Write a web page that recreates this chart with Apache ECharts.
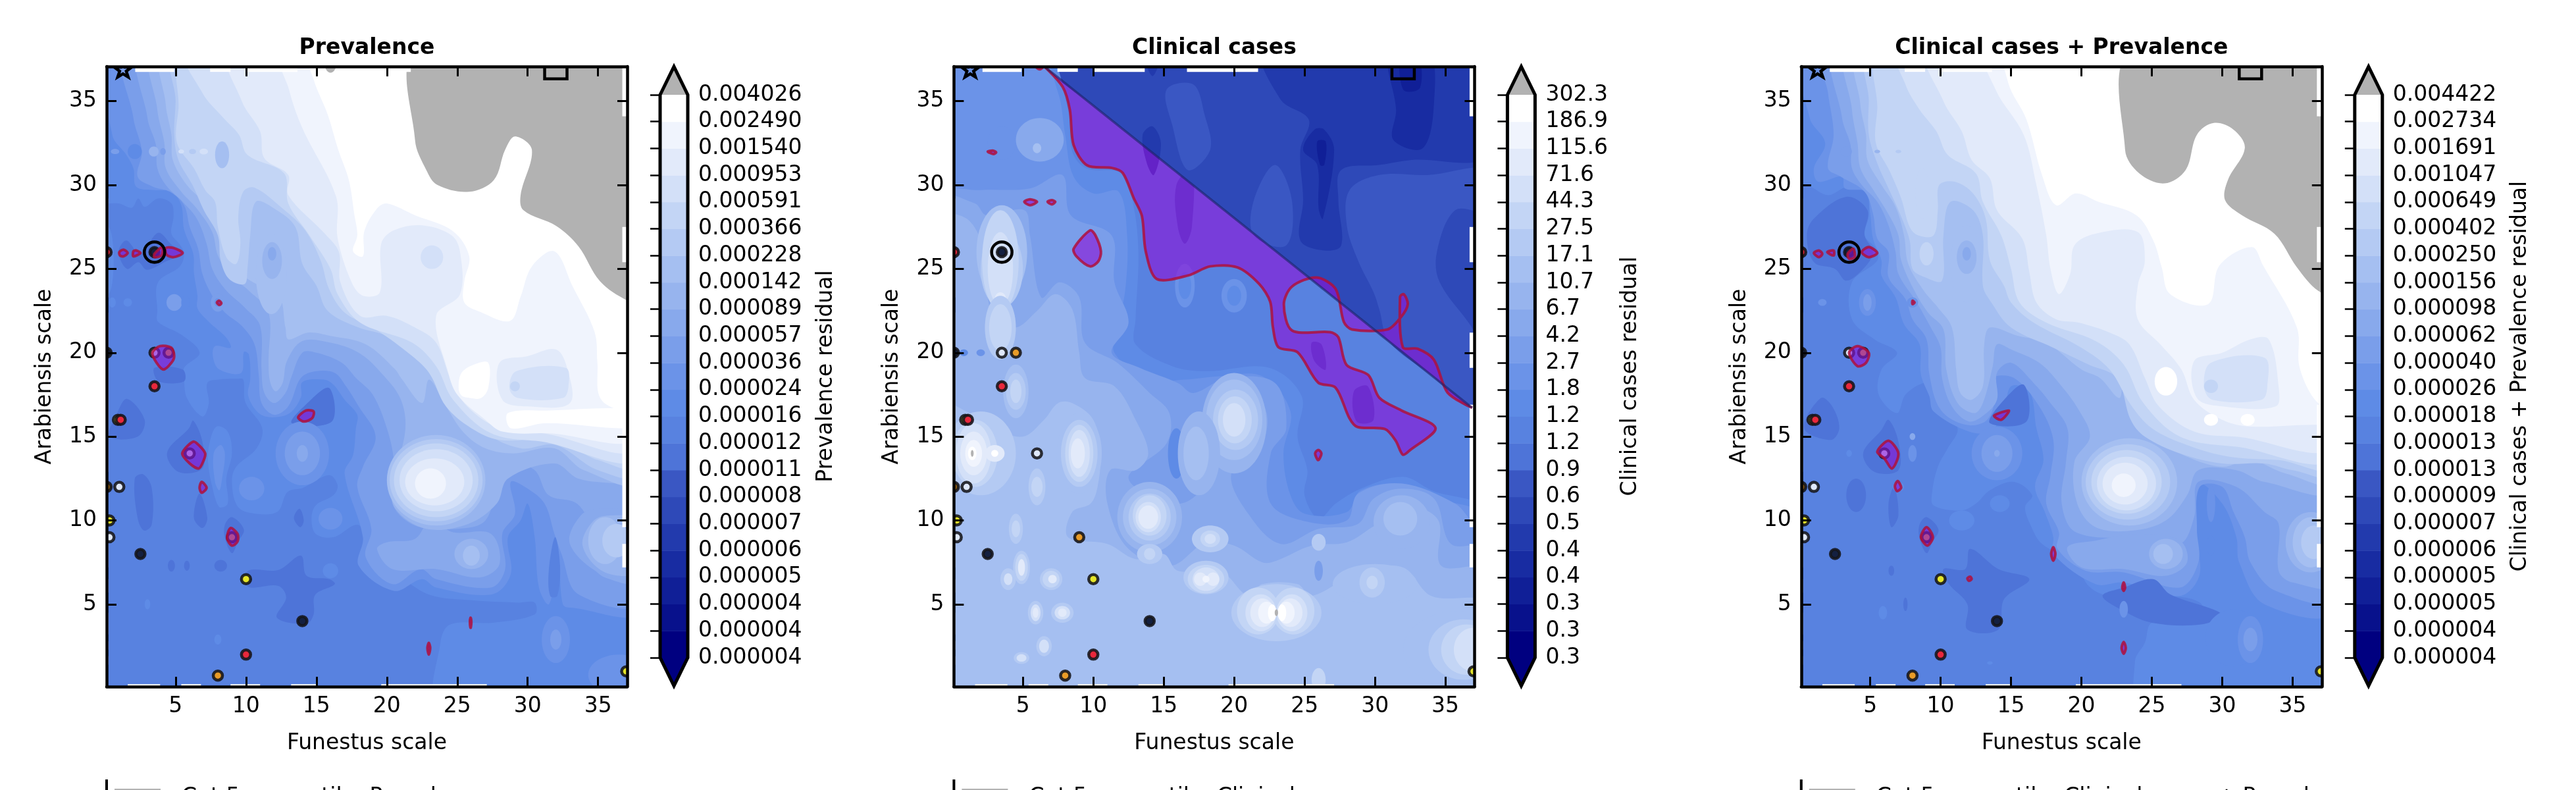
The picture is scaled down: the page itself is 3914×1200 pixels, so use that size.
<!DOCTYPE html>
<html><head><meta charset="utf-8">
<script src="https://cdn.jsdelivr.net/npm/echarts@6/dist/echarts.min.js"></script>
<style>html,body{margin:0;padding:0;background:#fff}#c{width:3914px;height:1200px}</style></head>
<body><div id="c"></div>
<script>
const titles=['Prevalence','Clinical cases','Clinical cases + Prevalence'];
const barNames=['Prevalence residual','Clinical cases residual','Clinical cases + Prevalence residual'];
const legendTexts=['Cut 5 percentile: Prevalence','Cut 5 percentile: Clinical cases','Cut 5 percentile: Clinical cases + Prevalence'];
const ticks1=['0.000004','0.000004','0.000004','0.000005','0.000006','0.000007','0.000008','0.000011','0.000012','0.000016','0.000024','0.000036','0.000057','0.000089','0.000142','0.000228','0.000366','0.000591','0.000953','0.001540','0.002490','0.004026'];
const ticks2=['0.3','0.3','0.3','0.4','0.4','0.5','0.6','0.9','1.2','1.2','1.8','2.7','4.2','6.7','10.7','17.1','27.5','44.3','71.6','115.6','186.9','302.3'];
const ticks3=['0.000004','0.000004','0.000005','0.000005','0.000006','0.000007','0.000009','0.000013','0.000013','0.000018','0.000026','0.000040','0.000062','0.000098','0.000156','0.000250','0.000402','0.000649','0.001047','0.001691','0.002734','0.004422'];
const BANDS=['#000080','#08118c','#101f97','#182ca2','#223aad','#2e49b8','#3a57c3','#4e74d8','#5882e0','#5e8be6','#6b93e8','#7a9eea','#88a9ec','#97b4ee','#a5bff1','#b4caf3','#c3d5f5','#d3e0f8','#e2eafa','#f0f4fd','#ffffff','#b2b2b2'];
const pointX=[0.1,3.5,0.1,3.5,4.5,3.5,0.9,1.1,6,0.1,1,0.3,0.3,2.5,9,10,14,10,8,37];
const pointY=[26,26,20,20,20,18,16,16,14,12,12,10,9,8,9,6.5,4,2,0.75,1];
const pointC=['#e8283c','#142040','#142040','#dfe8fb','#e89b28','#e8283c','#e5e52a','#e8283c','#dfe8fb','#8a5a10','#dfe8fb','#e5e52a','#dfe8fb','#142040','#e89b28','#e5e52a','#142040','#e8283c','#e89b28','#e5e52a'];
const gapTop=[[2.13,4.9],[7.45,8.9],[10,13.65],[16.65,21.7]];
const gapBottom=[[1.6,3.9],[5.4,6.8],[8.9,11],[13.2,15],[19.6,27.1]];
const gapRight=[[34.1,37.1],[25.4,27.5],[19.1,21.2],[9.6,16.9],[7.2,8.6]];
const gapLeft=[[23.3,29.2],[12.9,22.4],[7.2,9],[5.7,6.5],[3.2,4.5],[2.3,2.8],[1.4,1.9]];
const diagX=[6.55,36.9], diagY=[37.05,16.72];
const purpleOpenPoints=51;

const poly1=[
[8,[-1,-1,38,-1,38,38,-1,38]],
[9,[-1,28.9,0,28.9,0.95,28.9,1.9,28.65,2.35,29.2,2.8,28.7,3.75,29.2,4.7,28.9,4.85,28.15,4.7,27.1,5.3,26.45,5.6,25.9,5.3,25.15,3.75,24.2,3.7,22.5,3.75,21.85,5.45,21.05,6.7,20,5.6,19.1,5.6,18.45,5.8,17.3,6.9,16.2,7.35,16.95,7.25,18.2,8.1,18.4,9.35,18.45,9.8,18.4,9.95,17.05,11.15,15.5,10.75,14.3,9.3,13.2,9,12.35,9.35,10.9,10.3,10.45,12.2,10.5,12.95,11.7,14.05,11.95,15.9,12.7,16.5,12.1,16.2,11.5,14.95,10.9,14.65,10.1,14.95,9.2,16.2,9,17.9,9.75,18.55,8.95,18.5,8.3,21.2,6.5,23.1,5.55,25.85,5.25,29.35,5.1,30.5,5.1,30.5,4.4,27.5,3.9,24.5,3.8,23.8,2.7,23.8,-1,38,-1,38,38,-1,38]],
[10,[0.3,38,0.5,33,1.5,31.8,2,31,2.2,29.9,3.5,29.7,4.7,29.6,5.4,28.8,5.6,27.35,6.25,25.9,6.3,24.75,6.55,23.4,6.55,22.65,7.35,21.85,8.6,20.9,8.9,20.3,7.8,20.4,7.65,19.75,8.1,19,9.65,18.8,9.85,20.05,10.2,19.9,10.3,18.45,10.15,17.45,10.9,16.4,11.85,16.15,13.1,16.4,13.9,17.35,14,18.25,15.5,18.4,16.2,18.1,17,17.2,17.9,16.3,17.8,15.5,17.6,13.9,17,12.8,18.3,9,18,7.3,20.5,5.8,22.5,6.5,23.5,6,27.5,5.6,28.8,6.8,28.6,9,29.5,10,30,11,30.5,9,30.8,6,31.5,5,32,6.9,32.2,7.5,32.5,5,33,4.8,38,4.8,38,38]],
[11,[1.7,38,2,34,2.6,32,2.3,30.5,3.4,29.9,4.6,29.6,5.6,28.8,6,27.5,6.6,26.2,6.9,24.7,7.6,23.4,8.5,22.4,9.7,21.6,10.6,20.5,10.9,18.7,11.1,17,12,16.3,13,16.8,13.9,18.5,15,18.9,16.3,18.8,17.1,18,18,16.8,19.2,15,18.3,13.2,17.9,12,18.9,9.5,18.5,7.8,20.4,6.2,22.4,7.1,23.5,6.5,27.4,6,28.4,7.1,28.2,9.2,29.1,10.4,28.8,12.3,30,11.9,31.2,11,31.9,9.2,32.4,8,33.6,5.6,38,5.3,38,38]],
[12,[2.8,38,3,34,3.6,32.4,3.7,31,4.3,30,5.5,29,6.5,28,7.2,26.5,7.6,25,8.5,23.8,9.9,22.7,11,21.6,11.1,19,11.3,17.6,12,17,12.8,17.6,13.2,18.5,14,20,15,20,16.8,19.4,17.8,18.5,19,17.5,20,15.5,20.5,13.5,20.4,11,22,9.7,25,9.5,27,10,28,12.5,29,13.3,30.5,13,31.5,11.5,33.5,11,34.5,9.5,34.5,7.5,35.5,6.6,38,6.5,38,38]],
[12,[19.3,8.3,20,8.7,22,8.9,23.1,10,24.7,9.3,27.4,9.2,28,7.4,26.6,6.6,23.5,7.1,20.4,7.1]],
[13,[3.6,38,3.7,34.5,4.2,32.5,4.3,31,5.4,29.6,6.5,28.6,7.6,27.2,8,25.8,8.8,24.7,10.2,23.7,11.6,22.4,11.6,19.5,11.7,18.3,12.1,17.7,12.6,18.2,12.9,19.5,14,20.7,16,20.6,18,20,19.6,18.8,21,17.2,21.3,15.3,20.4,12.2,20.6,10.7,22.8,9.5,25.8,9.8,27.8,11,28.6,12.5,31.9,13.4,33.6,12.5,36.3,12.2,38,12,38,38]],
[12,[33,8.6,33.9,10.4,35.5,10.7,38,10.4,38,6.8,35.5,6.7]],
[13,[33.9,8.5,34.7,10,36,10.3,38,10,38,7,35.5,6.9]],
[14,[4.3,38,4.3,34.8,4.7,33,4.8,31.5,5.8,30,7,29,8,28,8.6,26.5,9,25.2,10.5,24.2,12.3,23.5,12.8,21.5,13,20.8,14.4,21.2,16,21,18.5,20.5,20.6,19,21,18.5,22.5,17,23,18.4,24.2,16.8,25.5,15.2,27,14.3,29,14,31.9,14.3,34,13,38,12.4,38,38]],
[15,[5,38,5,35,4.9,33,5.2,31.5,6.2,30,7,28.5,8,27,8.2,25.5,8.8,24.4,9.9,24.1,10.1,25,10.3,27,10.7,29,12,28.6,13.5,27.5,14,25.3,15,24,15.8,22.5,18,21.5,20,21,22,19.8,23,19.5,25,17.8,27,15.3,29.5,14.3,32,14.5,35,13,38,12.8,38,38]],
[16,[5.7,38,5.2,34.5,5.1,32.5,6.3,31,7.1,29.7,7.8,29,8,27.5,8.6,25.7,9.3,25.3,9.6,26.5,9.45,28.1,9.8,29.6,10.6,29.85,12.6,28.6,14.2,27.3,15.3,25.5,15.9,23.8,17,22.4,19,21.5,21.5,20,23,18.8,24.2,16.8,26,15.5,28,14.8,32,14.8,35,13.6,38,13.3,38,38]],
[17,[5.85,38,6.9,35.5,8.4,34,9.5,33,10.1,31.8,12.7,30.7,13,28.9,14.5,27,16,25,16.5,23.5,18.1,21.8,21.8,20.6,23.5,19.2,24.7,17.2,27.4,15.2,31,14.7,38,14,38,38]],
[18,[8.9,38,9.7,35,11,33.2,11.3,31.6,13,30.6,13,29.4,15.6,27.1,16.6,26,16.7,24.2,18.1,22.2,20,22.2,22,21.5,23.5,20.6,24.5,18.5,25.7,16.8,28,15.5,31,15.2,38,14.6,38,38]],
[19,[12.55,38,13.05,35.7,14,33.4,16.4,29.3,16.5,26.85,17.5,24.2,18.3,23.4,19.5,23.6,19.6,26.5,20.5,27.3,22.5,27.6,24.6,27,25.2,26,25.2,23.5,23.5,22.2,24.3,19,25,17.5,27,16,28.2,15.3,31.3,15.2,38,15.3,38,38]],
[20,[14.5,38,14.8,36.3,15.8,34.2,16.55,32.1,17.3,30.3,17.7,28.2,17.9,27,17.6,26.05,18.3,25.75,18.4,27.25,19.3,28.6,20,28.9,22,28.2,24.7,27.25,25.85,25.75,25.5,24.25,25.5,23,26.6,22.45,28.75,21.9,29.5,23.35,30.3,25.15,31.9,26.05,33.2,23.95,34.75,21.25,34.95,19.45,35.15,17.3,36.7,16.5,38,16.4,38,38]],
[20,[25.1,17.9,25.3,18.8,26.2,19.3,27.2,19.4,27.2,17.9,26.7,17.3,25.9,17.3,25.3,17.45]],
[20,[28.6,16.4,31.3,16.55,38,16.55,38,15.55,31.3,15.8,28.8,15.5]],
[18,[28,19.4,30,19.8,32,20.2,32.8,19.1,33,17,30,16.8,28.2,17.2]],
[17,[28.7,17.9,29.2,18.9,32.7,19.1,32.9,18,32.5,17.3,29.3,17.3]],
[7,[10.15,7,12.3,7.05,13.9,7.9,14.3,6.7,15.9,6.5,16.3,6.2,14.9,5.55,14.8,4.4,14.3,3.85,12.2,4.2,12.85,5.4,12.3,6.1,10.15,6.05]],
[7,[13.25,15.8,14.3,16.95,15.9,17.9,16.1,15.9]],
[7,[0.8,16.3,1.55,17.25,2.8,16,2.3,15,0.3,15]],
[7,[4.4,14.05,5.95,15.5,6.25,15.95,6.9,14.7,6.9,13.1,5.2,12.9]],
[7,[2.1,12.5,2.7,12.75,3.3,11.95,3.3,9.75,2.75,9.4,2.3,10.15]],
[7,[6.3,10.15,6.9,9.55,7.25,10.15,6.7,11.6]],
[7,[8.5,9.75,9,10.2,9.85,9.45,9.4,8.7,9,8.05,8.5,8.95]],
[7,[0.95,26,1.5,26.7,2.5,25.9,3.75,27.15,4.7,26.45,5.4,25.95,4.2,25.4,2.95,24.95,2.35,25.4,1.55,25]],
[7,[3.5,19.1,5.5,19,5.6,18.3,3.8,18.3]],
[7,[13.4,10.15,13.8,10.7,14.1,10,13.85,9.6]],
[9,[7.4,14.6,7.9,15.6,8.7,15.3,9,14,8.6,12.5,8.7,11,8.1,10.8,7.6,12,7.3,13.5]],
[10,[7.7,14,8.2,14.5,8.5,14,8.3,12.5,8.1,11.8,7.8,12.3]],
[8,[31.5,7,31.95,9,32.3,7.3,32.1,5.5,31.6,5.5]],
[21,[22.2,38,22,32.7,22.8,30.9,23.6,30,25.85,29.6,27.6,30.3,28.4,32.1,29.1,32.9,30.3,32.1,29.5,29.4,29.7,28.5,32.05,27.55,33.6,26.35,35.15,24.25,37.1,23.1,38,23,38,38]]
];
const blob1=[
[10,14,14,1.9,1.9],[11,14,14,1.25,1.3],[12,14,14,.4,.5],
[10,10.4,11.9,.9,.7],[10,16,10.1,.85,.65],[9,16,7,.55,.45],
[14,23.5,12.4,3.5,2.7],[15,23.5,12.4,3.3,2.45],[16,23.5,12.4,3,2.2],[17,23.5,12.4,2.6,1.85],[18,23.4,12.3,2.1,1.4],[19,23.1,12.2,1.1,.9],
[14,35.5,8.8,1.2,1.4],[15,36.3,8.8,1,1],
[13,26,8,1.2,.9],[14,26,7.9,.6,.6],
[17,23.2,25.7,.8,.7],[16,29.1,18,.35,.3],
[14,11.8,24.7,1.1,2.4],[13,11.85,25.5,.7,1.1],[12,11.85,25.9,.3,.4],
[9,0.2,25.5,.4,2],[11,0.7,32,.3,.15],[13,3.45,32,.35,.3],[11,4.1,32,.2,.2],[17,5.4,32,.2,.12],[15,6.2,32,.25,.15],[17,7,32,.3,.17],[14,8.3,31.8,.5,.8],[9,2.1,32,.5,.45],
[11,8,23,.5,.55],[10,8,23,.25,.25],[11,4.9,23,.55,.5],[9,5.7,23,.3,.4],[9,1.6,23,.3,.25],[9,.5,23,.25,.3],
[10,32,2.9,1,1.4],[11,32,2.9,.4,.6],[10,36.5,.8,2.2,1.2],
[7,4.7,7.3,.25,.35],[7,5.8,7.3,.2,.3],[7,8.2,7.3,.45,.35],[9,3,5,.2,.3],[9,8,2.9,.25,.3],
[21,16,37.2,.4,.5]
];
const purple1=[
[3.35,20,3.9,20.4,4.7,20.3,4.9,19.8,4.7,19.4,4.15,19,3.65,19.4],
[4.3,26.25,4.85,26.25,5.5,25.95,4.85,25.7,4.35,25.85],
[3.5,25.9,4.05,26.3,4,25.8,3.5,25.7],
[1,26,1.3,26.15,1.6,25.95,1.3,25.75,1.05,25.8],
[2,26.05,2.2,26.1,2.5,25.95,2,25.75],
[7.93,23,8.1,23.1,8.25,22.95,8.1,22.85],
[5.47,14,6.25,14.7,6.7,14.45,7.1,14,7,13.6,6.65,13.1,6,13.4],
[6.7,11.95,6.85,12.3,7.2,11.95,6.85,11.65],
[8.65,8.95,8.9,9.55,9.4,9.2,9.4,8.75,9,8.5],
[13.7,16.15,14.25,16.55,14.8,16.5,14.7,16.1,14.1,15.9],
[25.9,4,25.95,4.2,26,3.9,25.95,3.6],
[22.88,2.4,22.98,2.7,23.08,2.4,22.98,2]
];

const poly2=[
[8,[-1,-1,38,-1,38,38,-1,38]],
[6,[15.9,30,17,31,17,27.5,16.5,26.5,16,27.5]],
[6,[25.5,20.6,26.2,20.5,26.5,19,25.7,19.5]],
[6,[28.5,17.7,29.5,18,29.9,16,28.7,15.9]],
[5,[6.55,37.05,6.55,38,38,38,38,16.72,36.9,16.72,34,18.66,30,21.34,25,24.69,20,28.04,15,31.39,10,34.74]],
[4,[22.2,38,23.3,35.1,25.3,33.9,24.7,32.1,24.9,29.1,24.7,26.7,26.4,26.1,27.6,26.4,27.4,29.1,27.6,30.9,30.3,31.2,32.6,31.5,38,31.8,38,38]],
[3,[25.7,33.3,24.9,32.1,25.9,31.2,26,28.6,26.3,28,27.1,32.1,26.4,33.3]],
[3,[31,38,31.5,34.5,31.3,32.7,33.4,32.2,34.2,35,33.8,38]],
[2,[31.9,38,32,35.7,33.2,35.8,33,38]],
[2,[25.9,32.6,26.5,32.6,26.4,31.2,26.1,31.2]],
[4,[13.5,33,14.2,33.5,14.8,32.5,14.3,30.6,13.8,31.3]],
[4,[13.6,38,14.2,36.5,14.8,38]],
[6,[28.2,29.7,30.3,30.6,33.8,30.6,38,30.9,38,28.5,35.7,28.5,34.4,26,34.6,24.2,37.1,21.2,38,19,36.9,16.72,34,18.66,31,20.67,30.3,22.6,29.9,23.6,28.8,25.5,28,27.6]],
[6,[15.2,35.7,17.1,36,17.9,34.2,18.3,32.1,16.7,30.9,15.6,33.6]],
[6,[21.4,29.1,22.9,31.2,24.1,29.1,23.7,26.4,21.4,27]],
[9,[-1,38,6.5,38,8.2,34.5,8.5,32,9.5,31,12,30.7,12.8,29,13.2,26,13,22,13,20.5,15.6,19.2,18,18.9,22.5,19.1,24.8,17.4,24.5,15,25.2,13,25,11.5,26,10.1,27.2,11,29,11.9,32,12.6,34,11.8,38,10.4,38,-1,-1,-1]],
[10,[-1,38,6,38,7.5,35.5,8,33,8.6,30.5,10,29.5,11.8,29.6,12.4,27,12.3,24,11.8,21.6,11.5,20,14,18.4,16.5,18.4,19,18.6,22,18.6,24,16.5,23.5,14,24,11.5,25,10.4,28,10.5,29,11.8,32,12.2,34,11.4,38,10,38,-1,-1,-1]],
[11,[-1,29.4,2,29.7,5.5,29.8,7.8,30.6,8.4,28.2,11.3,27,11.5,24.2,12.5,21.8,11.3,20,13.3,19.1,16,18.2,17.1,17.6,19.5,18.5,22.9,18.2,23.7,15.5,22.6,14,22.6,11,25.3,9.9,28,10,28.8,11.6,31.9,12.2,35.7,11,37.1,9.8,38,9.8,38,-1,-1,-1]],
[12,[-1,29.2,1.6,28.9,2.4,28.2,5.1,28.5,5.5,27,6.3,23.3,7.6,24.2,9,23.3,9.4,20.6,11.7,19.4,14,17.6,15.4,16.4,15.2,14.6,12.5,12.5,16,11,17.9,12.2,17.1,14,18.3,17,20.2,18.2,22.2,16.7,22,14.6,19.8,12.8,21,10.4,23.3,8.6,26,9.5,28.8,9.8,29.9,11.3,31.9,11.9,34.2,11.3,35.4,8.6,38,8.3,38,-1,-1,-1]],
[13,[-1,28,1,28,2.3,26,2.4,24,3,22,4.5,21.5,6,22.5,7.3,23.5,8.5,22.6,9,20,9.4,18.5,11.5,18,13,16,13.9,14,13,13,11.2,13,11,11,12.5,8.3,15.5,7.3,18,8.7,20,8.5,22,7.5,23,7.6,25.5,8.5,28,8.7,30,9.7,32.5,10.8,34.5,10,34.7,7.3,38,7,38,-1,-1,-1]],
[14,[-1,17,1,16.5,3,15.5,5,15,6.5,16,7.5,17,8.5,17,10,16,10.5,14,10.3,12,9.8,11,8.5,10.5,8.2,9,11,8.6,13,7.7,15,8,16,7,19,7,21,5.5,22,6.2,24.5,6.2,25.5,5.5,29,7,32,7.2,34,5.5,38,5,38,-1,-1,-1]]
];
const blob2=[
[9,15.9,14,.6,1.5],[10,3.5,32.5,1,1],[12,6.2,32.7,1.7,1.3],[14,6,32.2,.3,.3],
[10,16.5,24,.7,1.3],[10,20,23.4,.9,1],[9,16.5,24,.45,.8],[9,20,23.4,.5,.6],
[13,20,15.8,2.3,3],[14,20,16,2,2.4],[15,20.1,16,1.6,1.8],[16,20.05,16,1.2,1.4],[17,20,16,.8,1],
[13,17.5,14,1.5,2.5],[14,17.3,14,.9,1.6],
[13,14,10.2,2.3,2.1],[14,14,10.2,1.9,1.7],[15,14,10.2,1.5,1.4],[16,14,10.3,1.2,1.2],[17,13.9,10.2,.9,.9],[18,13.9,10.2,.7,.7],
[15,14,8,.9,.6],[16,14,8,.4,.35],
[15,23,4.5,3.2,1.7],[16,21.7,4.6,1.5,1.4],[16,24.2,4.6,1.5,1.4],[17,21.9,4.5,1.1,1.1],[17,24.1,4.5,1.1,1.1],[18,22,4.5,.85,.85],[18,24,4.5,.85,.85],[19,22.3,4.5,.6,.65],[19,23.7,4.5,.6,.65],[20,22.7,4.5,.3,.5],[20,23.4,4.5,.3,.5],[21,23,4.5,.12,.2],
[15,18,6.6,1.6,1],[16,18,6.5,1.3,.85],[17,18,6.5,.95,.7],[18,17.6,6.5,.45,.4],[18,18.5,6.5,.45,.4],[19,18,6.5,.25,.2],
[15,18.3,8.9,1.3,.8],[16,18.3,8.9,.7,.5],[17,18.3,8.9,.4,.3],
[15,2,14,2.5,2.5],[16,1.6,14,1.6,2],[17,1.5,14,1.25,1.8],[18,1.5,14,.95,1.3],[19,1.5,14,.6,.8],[20,1.4,14,.3,.4],[21,1.4,14,.1,.2],[18,3,14,.7,.5],[20,3,14,.25,.2],
[14,9,14,1.6,2.4],[15,9,14,1.3,2],[16,9,14,1,1.7],[17,9,14,.75,1.4],[18,8.9,14,.5,.9],
[14,3.5,26,1.8,2.8],[15,3.5,25,1.5,2.3],[16,3.4,25.5,1.3,3],[17,3.4,25,.9,2.2],[18,3.4,23.2,.4,.4],
[15,3.4,21.5,1.1,1.9],[16,3.4,21.5,.8,1.4],[14,4.5,17.7,.9,1.6],[15,4.5,17.7,.7,1.1],[16,4.5,17.7,.4,.7],
[15,6,12,.6,1.1],[16,6,12,.4,.6],[15,4.5,9.5,.5,.9],[16,4.5,9.5,.3,.5],[15,4.9,7.2,.6,1],[16,4.9,7.2,.45,.8],[18,4.9,7.2,.25,.5],[15,3.95,6.5,.55,.65],[17,3.95,6.5,.3,.35],[15,7,6.5,.8,.65],[16,7,6.5,.6,.5],[18,7.1,6.5,.3,.25],[15,5.9,4.5,.55,.7],[17,5.9,4.5,.35,.5],[18,5.9,4.5,.2,.3],[15,7.8,4.5,.8,.6],[17,7.8,4.5,.55,.4],[18,7.8,4.5,.3,.25],[15,6.5,2.5,.55,.6],[17,6.5,2.5,.35,.4],[15,4.9,1.8,.55,.35],[17,4.9,1.8,.35,.22],
[14,36,2.3,4,2.3],[15,36.3,2.3,2.5,1.8],[16,36.5,2.3,1.8,1.5],[17,37,2.3,1.4,1.3],
[14,30,6.2,3,1.2],[15,29.8,6.3,.9,.9],[16,29.8,6.3,.4,.4],[13,31.9,9.9,2,1.6],[14,31.8,10.1,1.2,1],
[11,26,7,.3,.6],[15,26,8.7,.5,.5],[16,26,.5,.5,.7],[9,0.8,20,.3,.2],[10,2,20,.3,.2]
];
const purple2=[
[6.55,37.05,7.83,35.84,8.33,34.49,8.6,32.38,9.57,31.17,11.32,31.02,12.09,30.72,12.87,29.22,13.45,28.16,13.72,26.05,14.5,24.4,16.74,24.61,18.29,25.15,20.23,25.09,21.78,24.1,22.56,23.04,22.75,21.54,23.14,20.33,24.5,20.03,25.97,18.22,27.2,17.92,28.18,16.11,28.76,15.57,30.7,15.45,31.47,14.76,31.98,13.92,32.44,14.16,34.3,15.51,31.86,16.57,30.31,17.32,29.53,18.67,27.98,19.28,27.4,20.93,26.82,21.23,24.11,21.33,23.53,22.89,24.11,23.95,25.85,24.49,27.21,23.8,27.79,21.84,28.37,21.39,30.89,21.39,31.86,22.14,32.33,22.89,32.05,23.49,31.78,23.34,31.98,20.33,33.02,20.24,34.19,19.58,35.16,17.62,36.9,16.72,35.5,17.66,34,18.66,30,21.34,25,24.69,20,28.04,15,31.39,10,34.74,8,36.08],
[8.6,26.2,9.77,27.3,10.15,27,10.54,26.05,10.35,25.45,9.77,25.15,8.8,25.75],
[2.5,32,2.9,32.05,3.1,31.95,2.9,31.85],
[5.1,29,5.5,29.15,6,29,5.5,28.8],
[6.75,29,7.05,29.1,7.3,29,7.05,28.85],
[25.75,14,25.97,14.2,26.2,14,25.97,13.6],
[5.7,37.3,6.2,36.9,6.6,37.3]
];

const poly3=[
[8,[-1,-1,38,-1,38,38,-1,38]],
[9,[-1,30.2,0.5,30,2,29.4,3.4,29.9,4.7,29.5,4.9,28.2,4.6,27,5.4,26.2,5.5,25.5,3.7,24.2,3.7,22,5.3,20.8,6.9,20,5.8,19,5.6,17.5,6.9,16.4,7.5,17.5,8.8,18.2,9.8,18.1,9.8,17,11.2,15.5,10.5,14.3,9.8,13.2,9.4,11.7,9.5,10.9,11.5,10.6,12.5,11,13.5,11.8,15.2,12.3,16.5,11.5,16,10.8,16.4,9.7,17.2,8.6,19.5,7.5,20.5,6.1,21.9,5.5,23.7,5.5,27.4,5.4,28.6,4.9,27.8,4,25,3.9,24.5,2.7,23.8,1.6,24.3,-1,38,-1,38,38,-1,38]],
[10,[0.4,38,0.7,34,1.8,32.5,1,31,1.3,30.2,3,30.5,3.2,29.8,4.7,29.6,5,28.3,5.2,26.8,5.8,25.5,5.8,24.6,6.8,23.3,7.4,21.7,8.5,20.5,8.6,18.7,9.2,17.4,9.5,16.5,12,15.3,13.5,15.3,14.5,16.5,15,18,16.3,17.7,16.8,15.5,17.3,13.6,16.7,12,17.4,10.5,18,9,18,8,21,6.2,23,6.3,27,5.5,28.4,6.8,28,9.5,28.3,12.2,30,11,31,9,31.2,7.5,33,5,38,4.8,38,38]],
[11,[1.7,38,2,35.5,2.4,33,2,31,2.9,30.5,4.6,29.6,5.2,28.3,5.5,26.8,6.3,26,6.3,24.5,7.5,23.2,8,22,9,20.8,9.2,18.7,10,16.6,11.8,15.7,13.3,16,13.9,17.5,13.7,18.5,15.2,18.5,17,16.8,18,14.8,17.8,12.7,17.5,11,18.4,9.3,18.3,8.3,20.3,7,23,6.9,27,6,28.3,7.5,28.2,9.5,28.4,12,30,12,30.8,10.5,31.6,9,32,7.5,33.8,5.8,38,5.5,38,38]],
[12,[2.8,38,3,34,3.6,32.4,3.7,31,4.4,30,5.5,29,6.3,27.6,6.8,26,7,24.7,8.3,23,9.3,21.5,10,20.3,10.1,18.5,10.8,16.8,12,15.9,13.1,16.3,14,17.2,14,18.8,15,19.4,16.6,18.2,17.8,17,19,15.5,18.9,13.5,18.6,11,19.6,9.3,24,8.9,27,8.6,28,10.2,28.3,12.3,31,12,33,10.5,34,9.8,34,7,35,6.3,38,6.3,38,38]],
[12,[19,8.4,21,8.8,24,9.2,27,8.8,27.5,7.5,26,6.7,23,7.1,20,7.2]],
[13,[3.6,38,3.7,34.5,4.1,32.5,4.3,31,5.3,29.6,6.2,28.4,7,27,7.2,25.5,8.2,23.6,9.1,22.4,10.2,21.4,10.4,19,11.2,17,12.4,16.4,13,17,13.7,19.2,14,20.5,15,20.2,17,19.4,18.4,18.2,19.8,16.6,20.6,15,19.5,13.5,19.7,11,21,9.6,23.7,9.4,26,10,27.5,11.5,28.3,13,31,13,33,12.3,38,12,38,38]],
[14,[4.3,38,4.3,34.8,4.7,33,4.8,31.5,5.8,30,6.8,28.7,7.4,27,7.7,25.3,8.8,23.7,9.8,22.7,10.8,21.5,11.1,19,11.4,17.6,12.2,17.2,13,18,13.1,20.5,13.5,21.5,15.5,21,17.5,20.6,20,19,21.3,18.5,22.7,17.3,23,18.6,24,16.8,25.5,14.8,27.5,13.8,30,13.2,32,13.6,34.5,12.8,38,12.4,38,38]],
[15,[5,38,4.9,35,4.9,33,5.5,31.3,6.3,29.8,7,28.5,7.8,26.7,8,25,8.9,24.5,10.1,24.3,10.2,27,10.7,29,12.3,28.5,13,27,13,24,13.6,23,15,21.5,18,20.3,20.5,19.3,22.5,18.5,23.5,16,24.5,15,27,14,30,13.4,33,13.4,35,13,38,12.8,38,38]],
[16,[5.8,38,5.5,34.5,5.4,32.5,6.4,30.8,7.2,29.2,7.8,27.5,8.4,27,9.5,27,9.8,28.5,9.9,30,11,30.2,12.3,29.5,13.2,28,13.5,25.5,14.5,24,15,23,16.6,21.8,20,20.3,22,19,23.5,16.9,25,15.5,27.5,14.5,30.5,13.8,34,13.6,38,13.3,38,38]],
[17,[7,38,7.5,36,8.5,34.5,9.7,33.2,10.5,31.8,12.5,30.7,13,29,14.3,27,15,25,15.6,23,17.5,21.8,21,20.7,23,19.3,24.4,17,27,15,31,14.4,38,14,38,38]],
[18,[9.2,38,10.2,35,11.5,33.2,12.2,31.5,13.5,30.4,14,28.5,15.8,26.8,16.3,24.8,16.8,23,18.2,22,19.8,21.8,22,21.2,23.4,20.5,24.5,18.5,25.5,16.8,28,15.3,31,15,38,14.7,38,38]],
[19,[13.3,38,13.9,35.7,15.9,33,16.8,30,17.5,27,17.8,25,18.4,23.5,19.2,24.7,19.5,26.4,21,27.1,24,27.2,24.5,25.5,24,24,24,22,25.6,20.5,27.1,19,28,17.2,30,16,32,15.6,36.7,15.7,38,15.5,38,38]],
[20,[14.8,38,14.8,36.1,16.1,33.9,17.2,30.6,18.2,28.8,19.6,29.5,21.2,29,23.9,28.2,25.1,26.7,25.7,25.1,26.3,23.5,29,22.9,29.8,25.2,32.1,26.3,32.9,25.2,35.3,21.5,35.5,19.1,36.8,17,38,17,38,38]],
[18,[28,19.5,30,20,32,20.8,33.3,20.8,34,18,33.8,16.8,30,16.8,28.2,17.3]],
[17,[28.7,18,29.2,19.4,33,19.7,33.2,18,32.8,17.2,29.3,17.2]],
[18,[21,25.8,23,26.8,23.6,26.2,23.3,24.9,22.4,24.7]],
[7,[10.2,7.1,11.75,7.1,12.1,8.3,14.1,7.1,16.3,6.5,14.5,5.3,14.1,3.5,11.9,3.5,11.9,5,10.6,6.2]],
[7,[21.5,5.5,23,6,25.1,6.5,26.3,5.6,30,4.4,28.5,3.8,25,3.9,23,4.6]],
[7,[0.5,27,1,28,3.3,29.3,4.8,28.5,4.6,27,5.2,26,4.5,25,3.3,24.3,2.5,25,1,25.4]],
[7,[13.5,15.8,14.3,17,15.9,18.1,16.1,15.9]],
[7,[4.5,14,5.8,15.4,6.3,16,7,14.7,7,13,5.3,12.9]],
[7,[0.3,15.5,1.5,17.3,2.3,16.8,2.8,15.5,2.2,14.8]],
[7,[8.5,9.75,9,10.2,9.85,9.45,9.4,8.7,9,8.05,8.5,8.95]],
[7,[6.3,11,6.7,12,7,10.3,6.5,9.6]],
[21,[23.6,38,23.1,32.1,24.1,30.7,25.9,30.1,27.4,30.9,28.2,33,29.4,33.7,30.8,33.3,31.6,32.2,30.4,30.3,30.2,29.1,31.4,28.2,33.7,27.1,35.3,25.1,36.8,23.7,38,23.5,38,38]]
];
const blob3=[
[10,14,14,1.8,1.6],[11,14,14,1.1,1.1],[12,14,14,.2,.2],
[14,23.4,12.3,3.4,2.6],[15,23.3,12.3,3,2.25],[16,23.2,12.3,2.5,1.9],[17,23.2,12.2,2.1,1.6],[18,23.1,12.2,1.6,1.25],[19,23,12.1,.85,.7],
[13,36.3,8.7,1.8,1.8],[14,36.3,8.7,1.3,1.5],[15,36.5,8.7,.9,1],
[13,26,8,1.2,.9],[14,25.8,8,.7,.6],[10,29.2,11,.3,1.1],[9,29.2,8.5,.3,.6],
[16,9,25.9,.5,.7],[14,11.8,25.3,1.1,2.3],[13,11.85,25.7,.7,1],[12,11.85,25.9,.3,.4],
[20,26,18.3,.8,.85],[20,29.2,16,.5,.35],[20,31.8,16,.5,.35],[16,29.2,18,.5,.4],
[16,8.7,29.5,.5,1.5],[11,3.3,32,.4,.3],[13,5.5,32,.2,.1],[15,7,32,.2,.1],
[10,4.8,23,.6,.8],[11,4.8,23,.3,.5],[10,1.6,23,.3,.2],[10,8,23,.4,.3],[12,8,15,.2,.2],
[9,14.2,11,.7,.5],[11,13.3,14,.2,.2],[10,8,14,.3,.5],[9,3.5,14,.2,.2],[9,7,12,.4,.3],
[9,11.5,10,.9,.6],[7,4,11.5,.7,1],[7,6.5,7,.2,.3],[7,7.5,5,.15,.4],
[9,30.8,3,2,1.7],[10,32,2.9,.9,1.4],[11,32,2.9,.5,.7],
[10,23,4.7,.3,.5],[9,5.9,4.5,.3,.4],[9,13.5,1.5,.2,.1]
];
const purple3=[
[3.5,20,4.1,20.4,4.9,20,4.7,19.4,4.1,19.2],
[4.4,26,4.9,26.3,5.5,25.95,4.9,25.7],
[3.4,25.9,3.8,26.2,3.9,25.7,3.5,25.6],
[1,25.95,1.35,26.1,1.6,25.9,1.35,25.7],
[1.95,26,2.4,26.1,2.4,25.8],
[8,23.1,8.15,23,8,22.9],
[5.5,14.1,6.3,14.75,7,14,6.55,13.1,6,13.7],
[6.75,12.05,6.95,12.35,7.2,11.95,6.9,11.75],
[8.6,9,9,9.6,9.45,9,9.05,8.5],
[13.8,16.25,14.85,16.55,14.3,16],
[17.85,8,18,8.4,18.15,8,18,7.6],
[11.9,6.55,12.1,6.65,12.2,6.5,12,6.4],
[22.9,6,23,6.3,23.1,6,23,5.8],
[22.85,2.4,23,2.75,23.15,2.4,23,2.05]
];
const polys=[poly1,poly2,poly3], blobs=[blob1,blob2,blob3], purples=[purple1,purple2,purple3], ticks=[ticks1,ticks2,ticks3];

const STEP=1287.4, L0=162, W=791, T0=101, H=942, BAR0=1003, BARW=42, BT=144, BH=855;
const XMIN=0.1, XMAX=37.07, YMIN=0.09, YMAX=37.07;
const tickVals=[5,10,15,20,25,30,35];
const FONT='DejaVu Sans', FS=33;
const starShape=[[0,-13],[3,-4],[13,-4],[5,2],[8,11],[0,6],[-8,11],[-5,2],[-13,-4],[-3,-4]];
const lineS={lineStyle:{color:'#000',width:4.5}};

const grids=[],xAxes=[],yAxes=[],series=[],titleOpt=[],graphics=[];
const barNameGap=[194,129,193];
for(let p=0;p<3;p++){
  const L=L0+STEP*p, g=2*p;
  grids.push({left:L,top:T0,width:W,height:H});
  grids.push({left:BAR0+STEP*p,top:BT,width:BARW,height:BH});
  const xBase={type:'value',gridIndex:g,min:XMIN,max:XMAX,splitLine:{show:false},z:10,axisLine:{onZero:false,...lineS}};
  const yBase={type:'value',gridIndex:g,min:YMIN,max:YMAX,splitLine:{show:false},z:10,axisLine:{onZero:false,...lineS}};
  const tk={show:true,inside:true,length:15,lineStyle:{color:'#000',width:3},customValues:tickVals};
  xAxes.push({...xBase,position:'bottom',axisTick:tk,axisLabel:{color:'#000',fontFamily:FONT,fontSize:FS,margin:14,customValues:tickVals},
    name:'Funestus scale',nameLocation:'middle',nameGap:70,nameTextStyle:{color:'#000',fontFamily:FONT,fontSize:FS}});
  xAxes.push({...xBase,position:'top',axisTick:tk,axisLabel:{show:false}});
  xAxes.push({type:'value',gridIndex:g+1,min:0,max:1,show:false});
  yAxes.push({...yBase,position:'left',axisTick:tk,axisLabel:{color:'#000',fontFamily:FONT,fontSize:FS,margin:15,customValues:tickVals},
    name:'Arabiensis scale',nameLocation:'middle',nameGap:77,nameTextStyle:{color:'#000',fontFamily:FONT,fontSize:FS}});
  yAxes.push({...yBase,position:'right',axisTick:tk,axisLabel:{show:false}});
  const labs=ticks[p];
  yAxes.push({type:'value',gridIndex:g+1,position:'right',min:0,max:21,interval:1,z:10,splitLine:{show:false},axisLine:{show:false},
    axisTick:{show:true,inside:true,length:15,lineStyle:{color:'#000',width:2.5}},
    axisLabel:{color:'#000',fontFamily:FONT,fontSize:FS,margin:16,formatter:v=>labs[Math.round(v)]},
    name:barNames[p],nameLocation:'middle',nameRotate:90,nameGap:barNameGap[p],nameTextStyle:{color:'#000',fontFamily:FONT,fontSize:FS}});
  titleOpt.push({text:titles[p],left:L+W/2-5,top:52,textAlign:'center',textStyle:{color:'#000',fontFamily:FONT,fontSize:FS,fontWeight:'bold'}});

  const xa=3*p, ya=3*p, axes={xAxisIndex:xa,yAxisIndex:ya,clip:true,silent:true};
  const pl=polys[p], bl=blobs[p], pu=purples[p];
  series.push({type:'custom',...axes,z:1,data:pl.map((_,i)=>[i]),
    renderItem:(prm,api)=>{const b=pl[api.value(0)],c=b[1],pts=[];for(let k=0;k<c.length;k+=2)pts.push(api.coord([c[k],c[k+1]]));
      return {type:'polygon',shape:{points:pts,smooth:0.35},style:{fill:BANDS[b[0]]}};}});
  series.push({type:'custom',...axes,z:2,data:bl.map((_,i)=>[i]),
    renderItem:(prm,api)=>{const b=bl[api.value(0)],c=api.coord([b[1],b[2]]),s=api.size([b[3],b[4]]);
      return {type:'ellipse',shape:{cx:c[0],cy:c[1],rx:s[0],ry:s[1]},style:{fill:BANDS[b[0]]}};}});
  const gaps=[...gapTop.map(g=>[g[0],g[1],36.75,37.2]),...gapBottom.map(g=>[g[0],g[1],0,0.24]),...gapRight.map(g=>[36.72,37.2,g[0],g[1]]),...gapLeft.map(g=>[0,0.22,g[0],g[1]])];
  series.push({type:'custom',...axes,z:3,data:gaps.map((_,i)=>[i]),
    renderItem:(prm,api)=>{const r=gaps[api.value(0)],a=api.coord([r[0],r[3]]),b=api.coord([r[1],r[2]]);
      return {type:'rect',shape:{x:a[0],y:a[1],width:b[0]-a[0],height:b[1]-a[1]},style:{fill:'#fff'}};}});
  series.push({type:'custom',...axes,z:4,data:pointX.map((x,i)=>[x,pointY[i],i]),encode:{x:0,y:1},
    renderItem:(prm,api)=>{const c=api.coord([api.value(0),api.value(1)]);
      return {type:'circle',shape:{cx:c[0],cy:c[1],r:7},style:{fill:pointC[api.value(2)],stroke:'rgba(20,20,25,.88)',lineWidth:4.5}};}});
  series.push({type:'custom',...axes,z:5,data:pu.map((_,i)=>[i]),
    renderItem:(prm,api)=>{const c=pu[api.value(0)],pts=[];for(let k=0;k<c.length;k+=2)pts.push(api.coord([c[k],c[k+1]]));
      const fill='rgba(140,20,215,.62)',stroke='rgba(175,16,60,.85)';
      if(pts.length>20) return {type:'group',children:[
        {type:'polygon',shape:{points:pts,smooth:0.3},style:{fill}},
        {type:'polyline',shape:{points:pts.slice(0,purpleOpenPoints),smooth:0.3},style:{fill:'none',stroke,lineWidth:4}}]};
      return {type:'polygon',shape:{points:pts,smooth:0.3},style:{fill,stroke,lineWidth:4}};}});
  if(p===1) series.push({type:'line',xAxisIndex:xa,yAxisIndex:ya,z:6,silent:true,symbol:'none',lineStyle:{color:'rgba(25,35,100,.6)',width:3.5},data:diagX.map((x,i)=>[x,diagY[i]])});
  series.push({type:'custom',...axes,z:7,data:[[3.5,26,1.26,36.87,32,37]],encode:{x:0,y:1},
    renderItem:(prm,api)=>{const r=api.coord([api.value(0),api.value(1)]),s=api.coord([api.value(2),api.value(3)]),q=api.coord([api.value(4),api.value(5)]);
      const st={fill:'none',stroke:'#000',lineWidth:4.5};
      return {type:'group',children:[
        {type:'circle',shape:{cx:r[0],cy:r[1],r:15.5},style:st},
        {type:'polygon',shape:{points:starShape.map(o=>[s[0]+o[0],s[1]+o[1]])},style:st},
        {type:'rect',shape:{x:q[0]-17,y:q[1]-17,width:34,height:34},style:st}]};}});

  // colour bar
  series.push({type:'custom',xAxisIndex:3*p+2,yAxisIndex:3*p+2,clip:false,z:1,silent:true,data:BANDS.slice(0,21).map((_,i)=>[i]),
    renderItem:(prm,api)=>{const i=api.value(0),a=api.coord([0,i+1]),b=api.coord([1,i]);
      return {type:'rect',shape:{x:a[0],y:a[1],width:b[0]-a[0],height:b[1]-a[1]+.5},style:{fill:BANDS[i]}};}});
  series.push({type:'custom',xAxisIndex:3*p+2,yAxisIndex:3*p+2,clip:false,z:2,silent:true,data:[[0]],
    renderItem:(prm,api)=>{const o=[[0,21],[.5,22.05],[1,21]].map(q=>api.coord(q)),u=[[0,0],[.5,-1.05],[1,0]].map(q=>api.coord(q)),
        f=[[0,0],[0,21],[.5,22.05],[1,21],[1,0],[.5,-1.05]].map(q=>api.coord(q));
      return {type:'group',children:[{type:'polygon',shape:{points:o},style:{fill:BANDS[21]}},{type:'polygon',shape:{points:u},style:{fill:BANDS[0]}},
        {type:'polygon',shape:{points:f},style:{fill:'none',stroke:'#000',lineWidth:5}}]};}});

  graphics.push({type:'rect',shape:{x:L-2,y:1184,width:4,height:20},style:{fill:'#000'}});
  graphics.push({type:'rect',shape:{x:L+12,y:1198,width:70,height:6},style:{fill:'#b2b2b2'}});
  graphics.push({type:'text',x:L+114,y:1195,style:{text:legendTexts[p],fill:'#000',font:FS+'px "'+FONT+'"',textVerticalAlign:'top'}});
}
const chart=echarts.init(document.getElementById('c'),null,{width:3914,height:1200});
chart.setOption({animation:false,backgroundColor:'#fff',title:titleOpt,grid:grids,xAxis:xAxes,yAxis:yAxes,series,graphic:graphics});
</script></body></html>
